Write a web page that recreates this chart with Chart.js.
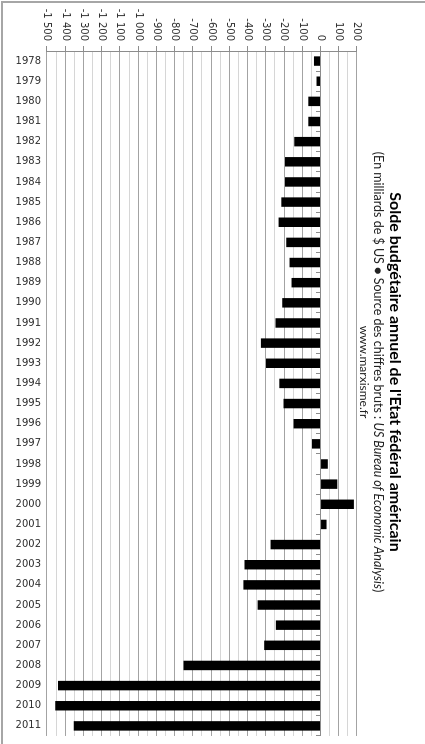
<!DOCTYPE html>
<html>
<head>
<meta charset="utf-8">
<script src="https://cdn.jsdelivr.net/npm/chart.js@4"></script>
<style>
  html, body { margin: 0; padding: 0; background: #fff; overflow: hidden; }
  #wrap {
    position: absolute; left: 425px; top: 0;
    width: 744px; height: 425px;
    transform-origin: 0 0; transform: rotate(90deg);
  }
</style>
</head>
<body>
<div id="wrap"><canvas id="chart" width="744" height="425"></canvas></div>
<script>
// chart is drawn as a normal column chart, then the whole thing is turned 90deg
const years = ["1978","1979","1980","1981","1982","1983","1984","1985","1986","1987",
               "1988","1989","1990","1991","1992","1993","1994","1995","1996","1997",
               "1998","1999","2000","2001","2002","2003","2004","2005","2006","2007",
               "2008","2009","2010","2011"];
const balance = [-36, -22, -67, -67, -144, -195, -195, -215, -230, -188,
                 -170, -159, -210, -247, -327, -299, -226, -203, -148, -47,
                 40, 92, 183, 33, -274, -417, -423, -345, -245, -309,
                 -751, -1439, -1455, -1353];
const yMin = -1500, yMax = 200, yStep = 50;

const titleText = "Solde budgétaire annuel de l'Etat fédéral américain";
const subParts = ["(En milliards de $ US \u25CF Source des chiffres bruts : ", "US Bureau of Economic Analysis", ")"];
const siteText = "www.marxisme.fr";

function fmt(v) {
    const a = Math.abs(v);
    let s = a >= 1000 ? Math.floor(a / 1000) + " " + String(a % 1000).padStart(3, "0") : String(a);
    return (v < 0 ? "-" : "") + s;
}

const header = {
    id: "header",
    beforeDraw(chart) {
        const c = chart.ctx;
        c.save();
        c.strokeStyle = "#a6a6a6";
        c.lineWidth = 2;
        c.beginPath();
        c.moveTo(2, -5);
        c.lineTo(2, chart.height - 2);
        c.lineTo(chart.width + 5, chart.height - 2);
        c.stroke();
        c.restore();
    },
    afterDraw(chart) {
        const c = chart.ctx;
        const cx = chart.width / 2;
        c.save();
        c.fillStyle = "#000";
        c.textBaseline = "middle";
        c.textAlign = "center";
        c.font = "bold 16px Lato";
        c.fillText(titleText, cx, 30);

        const fonts = ["12.5px Lato", "italic 12.5px Lato", "12.5px Lato"];
        let total = 0;
        subParts.forEach((p, i) => { c.font = fonts[i]; total += c.measureText(p).width; });
        let x = cx - total / 2;
        c.textAlign = "left";
        c.fillStyle = "#222";
        subParts.forEach((p, i) => {
            c.font = fonts[i];
            c.fillText(p, x, 47);
            x += c.measureText(p).width;
        });
        c.textAlign = "center";
        c.font = "12px Lato";
        c.fillText(siteText, cx, 61);
        c.restore();
    }
};

new Chart(document.getElementById("chart"), {
    type: "bar",
    data: {
        labels: years,
        datasets: [{
            data: balance,
            backgroundColor: "#000",
            borderWidth: 0,
            barPercentage: 0.47,
            categoryPercentage: 1
        }]
    },
    options: {
        responsive: false,
        animation: false,
        devicePixelRatio: 1,
        layout: { padding: { left: 4, right: 7, top: 68, bottom: 8 } },
        plugins: { legend: { display: false }, tooltip: { enabled: false } },
        scales: {
            x: {
                position: { y: 0 },
                ticks: { display: false },
                grid: { offset: true, drawOnChartArea: false, tickLength: 4, color: "#8c8c8c" },
                border: { color: "#8c8c8c" }
            },
            x2: {
                type: "category",
                labels: years,
                position: "bottom",
                grid: { display: false, drawTicks: false },
                border: { display: false },
                ticks: {
                    minRotation: 90, maxRotation: 90, autoSkip: false, padding: 6,
                    color: "#333", font: { family: "DejaVu Sans", size: 10 }
                },
                afterFit(s) { s.height = 39; }
            },
            y: {
                min: yMin, max: yMax,
                ticks: {
                    stepSize: yStep, autoSkip: false, padding: 5,
                    color: "#333", font: { family: "DejaVu Sans", size: 10 },
                    callback: v => (v % 100 === 0 ? fmt(v) : "")
                },
                grid: {
                    tickLength: 5,
                    color: ctx => (ctx.tick && ctx.tick.value % 100 === 0 ? "#a3a3a3" : "#d6d6d6"),
                    tickColor: ctx => (ctx.tick && ctx.tick.value % 100 === 0 ? "#8c8c8c" : "rgba(0,0,0,0)")
                },
                border: { color: "#8c8c8c" },
                afterFit(s) { s.width = 47; }
            }
        }
    },
    plugins: [header]
});
</script>
</body>
</html>
